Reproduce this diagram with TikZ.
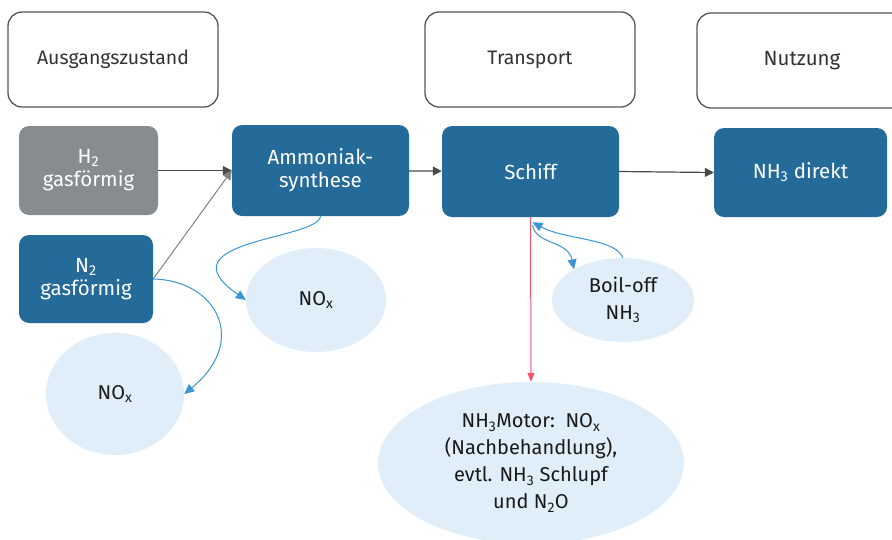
\documentclass[tikz,border=0pt]{standalone}
\usepackage{fontspec}
\setmainfont{Fira Sans}
\usetikzlibrary{arrows.meta, shapes.geometric}

\definecolor{boxblue}{HTML}{246B9A}
\definecolor{boxgray}{HTML}{878C91}
\definecolor{headline}{HTML}{555555}
\definecolor{emisfill}{HTML}{DFEEF8}
\definecolor{flowgray}{HTML}{4A4A4A}
\definecolor{sideblue}{HTML}{3A96D3}
\definecolor{motorred}{HTML}{F2546C}
\newcommand{\idx}[1]{\textsubscript{#1}}

\begin{document}
\begin{tikzpicture}[x=1pt, y=-1pt,
    head/.style={draw=headline, line width=1.3pt, rounded corners=14pt, minimum width=210pt, minimum height=95pt, text=black!80, font=\fontsize{19.5}{23}\selectfont},
    proc/.style={rounded corners=10pt, fill=boxblue, text=white, align=center, inner sep=0pt, font=\fontsize{20.5}{23}\selectfont},
    emis/.style={ellipse, fill=emisfill, text=black!90, align=center, inner sep=0pt, font=\fontsize{20}{27}\selectfont},
    flow/.style={draw=flowgray, line width=1.2pt, arrows={-Triangle[length=9pt, width=9pt]}},
    side/.style={draw=sideblue, line width=1pt, arrows={-Triangle[length=10pt, width=9pt]}}
]
    \useasboundingbox (0,0) rectangle (892,539);
    \clip (0,0) rectangle (892,539);

    % Stages
    \node[head] (start) at (113,59.5) {Ausgangszustand};
    \node[head] (transport) at (530,59.5) {Transport};
    \node[head, font=\fontsize{20.5}{24}\selectfont] (use) at (802,60.5) {Nutzung};

    % Process boxes
    \node[proc, fill=boxgray, minimum width=139pt, minimum height=89pt] (h2) at (88.5,170.5) {H\idx{2}\\gasförmig};
    \node[proc, minimum width=134pt, minimum height=88pt] (n2) at (86,279) {N\idx{2}\\gasförmig};
    \node[proc, minimum width=177pt, minimum height=91pt] (ammo) at (320.5,170.5) {Ammoniak-\\synthese};
    \node[proc, minimum width=177pt, minimum height=91pt] (ship) at (530.5,171.5) {Schiff};
    \node[proc, minimum width=173pt, minimum height=89pt] (direct) at (800.5,172.5) {NH\idx{3} direkt};

    % Emissions
    \node[emis, minimum width=138pt, minimum height=122pt] (nox n2) at (115,394) {NO\idx{x}};
    \node[emis, minimum width=140pt, minimum height=104pt] (nox ammo) at (316,300) {NO\idx{x}};
    \node[emis, minimum width=142pt, minimum height=84pt] (boil) at (623,300) {Boil-off\\NH\idx{3}};
    \node[emis, minimum width=306pt, minimum height=162pt] (motor) at (531,463) {NH\idx{3}Motor:\ \ NO\idx{x}\\(Nachbehandlung),\\evtl. NH\idx{3} Schlupf\\und N\idx{2}O};

    % Main chain
    \draw[flow] (h2) -- (ammo.west);
    \draw[flow, draw=gray, line width=1pt] (n2.east) -- (ammo.west);
    \draw[flow] (ammo) -- (ship);
    \draw[flow] (ship.east) -- (direct.west);
    \draw[draw=motorred, line width=1pt, arrows={-Triangle[length=9pt, width=7pt]}] (ship.south) -- (motor.north);

    % Side streams
    \draw[side] (n2.east) .. controls (215,280) and (250,340) .. (nox n2.east);
    \draw[side] (ammo.south) .. controls (318,240) and (160,240) .. (nox ammo.west);
    \draw[side] (boil.north) .. controls (615,238) and (565,240) .. ([xshift=2pt, yshift=-5pt]ship.south);
    \draw[side] ([xshift=2pt, yshift=-8pt]ship.south) .. controls (536,245) and (568,240) .. (boil.148);
\end{tikzpicture}
\end{document}
